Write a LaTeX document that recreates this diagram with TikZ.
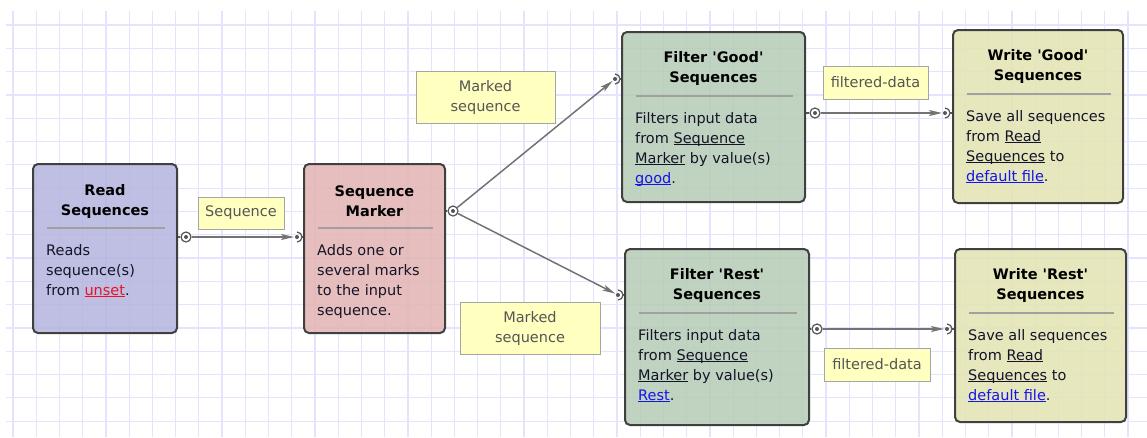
\documentclass[tikz,border=0pt]{standalone}
\usepackage{fontspec}
\setmainfont{DejaVu Sans}[Ligatures=TeXOff]
\usepackage{tikz}
\usetikzlibrary{arrows.meta,calc}

\definecolor{gridline}{RGB}{228,228,255}
\definecolor{boxborder}{RGB}{64,64,64}
\definecolor{sepline}{RGB}{160,160,160}
\definecolor{readfill}{RGB}{179,180,221}
\definecolor{markerfill}{RGB}{227,179,179}
\definecolor{filterfill}{RGB}{181,203,181}
\definecolor{writefill}{RGB}{227,227,179}
\definecolor{tagfill}{RGB}{255,255,192}
\definecolor{taggrey}{RGB}{165,165,165}
\definecolor{tagtext}{RGB}{85,85,85}
\definecolor{bodytext}{RGB}{20,20,40}
\definecolor{linkblue}{RGB}{20,20,235}
\definecolor{linkred}{RGB}{230,20,40}
\definecolor{flowgrey}{RGB}{115,115,115}
\definecolor{portgrey}{RGB}{85,85,85}

\newcommand{\lnk}[1]{\setbox0\hbox{#1}\rlap{\rule[-2pt]{\wd0}{1pt}}\box0\relax}

\begin{document}
\begin{tikzpicture}[
    x=1pt, y=-1pt,
    font=\fontsize{14.5}{20}\selectfont,
    task/.style={draw=boxborder, line width=2pt, rounded corners=5pt, fill opacity=0.85, text opacity=1, inner sep=0pt},
    title/.style={font=\fontsize{14.5}{20}\selectfont\bfseries, align=center, inner sep=0pt},
    body/.style={anchor=north west, align=left, inner sep=0pt, text=bodytext},
    sep/.style={draw=sepline, line width=1.3pt},
    tag/.style={draw=taggrey, fill=tagfill, text=tagtext, align=center, inner sep=0pt, line width=1pt},
    arr/.style={-{Stealth[length=13pt, width=6pt, inset=3pt]}, line width=1.5pt, draw=flowgrey, fill=flowgrey},
    outport/.style={circle, draw=portgrey, fill=white, line width=1.2pt, minimum size=10pt, inner sep=0pt},
    port/.style={draw=portgrey, line width=1.2pt}
]
  \useasboundingbox (0,0) rectangle (1147,437);

  % grid
  \foreach \i in {0,...,48}
    \draw[gridline, line width=1.2pt] ({13+23.23*\i},11) -- ({13+23.23*\i},437);
  \foreach \j in {0,...,17}
    \draw[gridline, line width=1.2pt] (6,{25+23.3*\j}) -- (1147,{25+23.3*\j});

  % tasks
  \node[task, fill=readfill,   minimum width=144pt, minimum height=169pt] (read)   at (105,248.5) {};
  \node[task, fill=markerfill, minimum width=141pt, minimum height=169pt] (marker) at (374.5,248.5) {};
  \node[task, fill=filterfill, minimum width=183pt, minimum height=170pt] (fgood)  at (713.5,117) {};
  \node[task, fill=filterfill, minimum width=184pt, minimum height=176pt] (frest)  at (717,337) {};
  \node[task, fill=writefill,  minimum width=170pt, minimum height=173pt] (wgood)  at (1038,116.5) {};
  \node[task, fill=writefill,  minimum width=171pt, minimum height=173pt] (wrest)  at (1040.5,335.5) {};

  \node[title] (read-title)   at ($(read.north)+(0,38)$)   {Read\\Sequences};
  \node[title] (marker-title) at ($(marker.north)+(0,38)$) {Sequence\\Marker};
  \node[title] (fgood-title)  at ($(fgood.north)+(0,37)$)  {Filter 'Good'\\Sequences};
  \node[title] (frest-title)  at ($(frest.north)+(0,37)$)  {Filter 'Rest'\\Sequences};
  \node[title] (wgood-title)  at ($(wgood.north)+(0,37)$)  {Write 'Good'\\Sequences};
  \node[title] (wrest-title)  at ($(wrest.north)+(0,37)$)  {Write 'Rest'\\Sequences};

  \foreach \n in {read,marker,fgood,frest,wgood,wrest}
    \draw[sep] ($(\n.north west)+(15,65)$) -- ($(\n.north east)+(-13,65)$);

  \node[body] (read-text)   at ($(read.north west)+(14,81)$)   {Reads\\sequence(s)\\from \textcolor{linkred}{\lnk{unset}}.};
  \node[body] (marker-text) at ($(marker.north west)+(14,81)$) {Adds one or\\several marks\\to the input\\sequence.};
  \node[body] (fgood-text)  at ($(fgood.north west)+(14,81)$)  {Filters input data\\from \lnk{Sequence}\\\lnk{Marker} by value(s)\\\textcolor{linkblue}{\lnk{good}}.};
  \node[body] (frest-text)  at ($(frest.north west)+(14,81)$)  {Filters input data\\from \lnk{Sequence}\\\lnk{Marker} by value(s)\\\textcolor{linkblue}{\lnk{Rest}}.};
  \node[body] (wgood-text)  at ($(wgood.north west)+(14,81)$)  {Save all sequences\\from \lnk{Read}\\\lnk{Sequences} to\\\textcolor{linkblue}{\lnk{default file}}.};
  \node[body] (wrest-text)  at ($(wrest.north west)+(14,81)$)  {Save all sequences\\from \lnk{Read}\\\lnk{Sequences} to\\\textcolor{linkblue}{\lnk{default file}}.};

  % labels on the links
  \node[tag, minimum width=86pt,  minimum height=32pt] (seq-tag)    at (241,213)     {Sequence};
  \node[tag, minimum width=139pt, minimum height=52pt] (mark-tag-a) at (485.5,97)    {Marked\\sequence};
  \node[tag, minimum width=140pt, minimum height=52pt] (mark-tag-b) at (530,328)     {Marked\\sequence};
  \node[tag, minimum width=105pt, minimum height=33pt] (filt-tag-a) at (875.5,82.5)  {filtered-data};
  \node[tag, minimum width=106pt, minimum height=33pt] (filt-tag-b) at (877,364.5)   {filtered-data};

  % ports
  \coordinate (marker-in) at (297,237);
  \coordinate (fgood-in)  at (615,79);
  \coordinate (frest-in)  at (618,295);
  \coordinate (wgood-in)  at (945,113);
  \coordinate (wrest-in)  at (947,329);

  \node[outport] (read-out)   at (186,237) {};
  \node[outport] (marker-out) at (453,211) {};
  \node[outport] (fgood-out)  at (815,113) {};
  \node[outport] (frest-out)  at (817,329) {};

  \draw[arr, shorten >=3pt] (read-out) -- (marker-in);
  \draw[arr, shorten >=3pt] (marker-out) -- (fgood-in);
  \draw[arr, shorten >=3pt] (marker-out) -- (frest-in);
  \draw[arr, shorten >=3pt] (fgood-out) -- (wgood-in);
  \draw[arr, shorten >=3pt] (frest-out) -- (wrest-in);

  \draw[port] (read.east |- read-out) -- (read-out.west);
  \draw[port] (marker.east |- marker-out) -- (marker-out.west);
  \draw[port] (fgood.east |- fgood-out) -- (fgood-out.west);
  \draw[port] (frest.east |- frest-out) -- (frest-out.west);

  \foreach \p/\t in {marker-in/marker,fgood-in/fgood,frest-in/frest,wgood-in/wgood,wrest-in/wrest} {
    \draw[port] ($(\p)+(90:5pt)$) arc[start angle=90, end angle=-90, radius=5pt];
    \draw[port] ($(\p)+(5pt,0pt)$) -- (\p -| \t.west);
  }
  \foreach \p in {read-out,marker-out,fgood-out,frest-out,marker-in,fgood-in,frest-in,wgood-in,wrest-in}
    \fill[portgrey] (\p) circle (2pt);
\end{tikzpicture}
\end{document}
